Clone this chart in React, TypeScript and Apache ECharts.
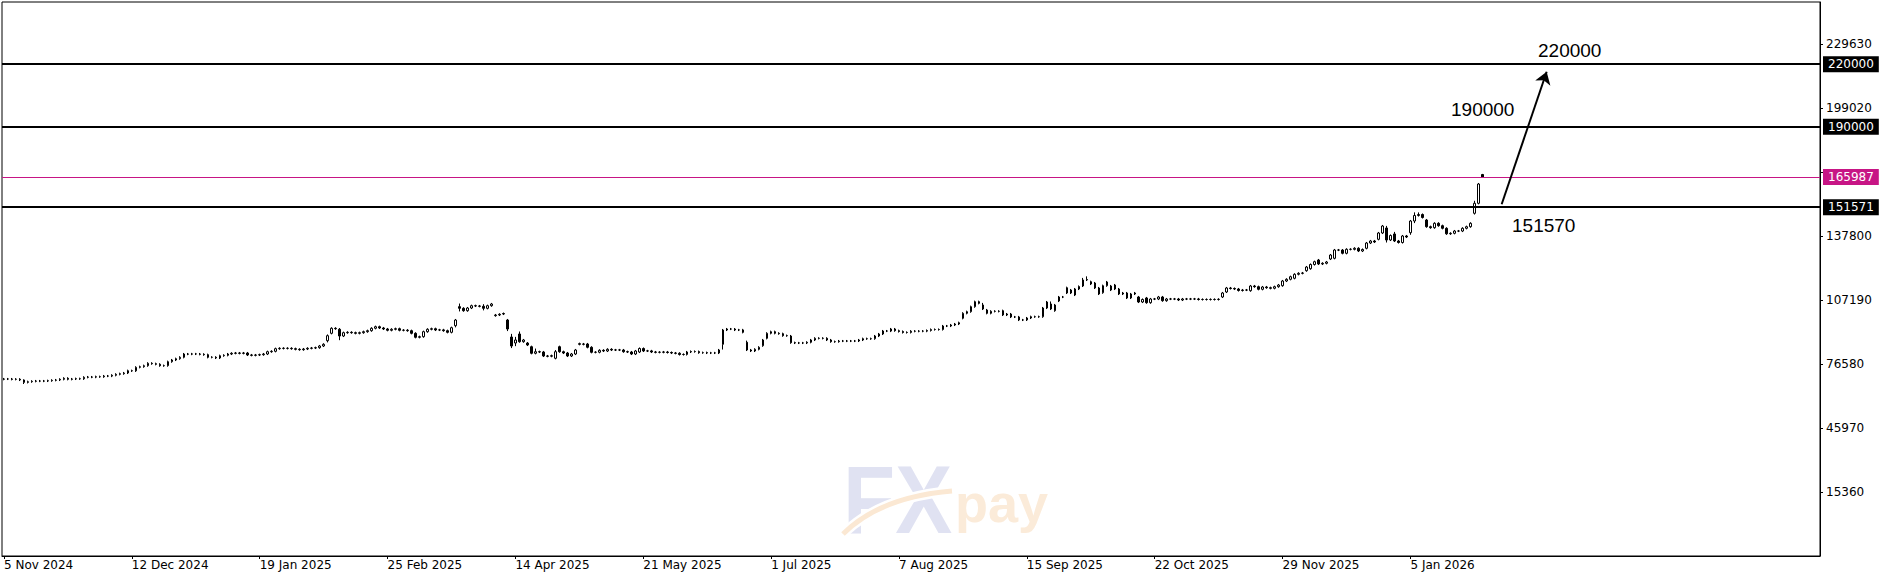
import React, { useEffect, useRef } from "react";
import * as echarts from "echarts";

// ---------- data ----------
const tickLabels = [
  "5 Nov 2024", "12 Dec 2024", "19 Jan 2025", "25 Feb 2025", "14 Apr 2025", "21 May 2025",
  "1 Jul 2025", "7 Aug 2025", "15 Sep 2025", "22 Oct 2025", "29 Nov 2025", "5 Jan 2026",
];
const BARS_PER_LABEL = 32;
const SLOT_COUNT = 455;

const opens = [
  69300, 69410, 69400, 69260, 69300, 68930, 67800, 68110, 68310, 68450,
  68400, 68450, 68590, 68780, 68930, 69260, 69740, 69260, 69410, 69550,
  69500, 70220, 70360, 70300, 70510, 70480, 70840, 70800, 71180, 71650,
  71940, 72280, 73380, 73300, 75000, 75290, 75770, 76920, 76720, 76440,
  75770, 75800, 77680, 78490, 79120, 79790, 81360, 81300, 81400, 81360,
  81220, 81030, 79790, 79800, 79450, 80550, 80740, 81360, 81700, 81840,
  81700, 81840, 80890, 80740, 80890, 81030, 81360, 82460, 82650, 83900,
  84090, 84050, 84090, 83900, 83610, 83420, 83750, 84090, 84230, 84380,
  85190, 87720, 91260, 93660, 93180, 89970, 91550, 91740, 91550, 91260,
  91550, 92030, 92510, 93660, 94420, 93800, 93320, 92700, 93180, 93460,
  92700, 92750, 92510, 91260, 89350, 89640, 92030, 93180, 93460, 92840,
  92900, 92510, 91740, 94900, 104000, 103220, 102070, 103360, 104460, 104320,
  104180, 103220, 104460, 99700, 100020, 100700, 97620, 89490, 86620, 90930,
  87250, 86600, 84850, 81700, 82460, 82320, 80410, 80300, 79310, 84850,
  82460, 81840, 80410, 81360, 86300, 86000, 86150, 84570, 82180, 82200,
  83130, 82800, 83610, 83280, 83300, 83280, 82460, 82320, 81360, 82320,
  83990, 82800, 82850, 82320, 82180, 82200, 82320, 82080, 81840, 81700,
  81120, 81150, 82320, 82560, 82500, 81980, 82000, 81840, 81880, 81840,
  86000, 92840, 93320, 93300, 92840, 92880, 86960, 83280, 82800, 83610,
  85330, 88870, 91260, 92030, 91260, 91070, 90120, 89970, 86770, 86620,
  86650, 86620, 86960, 88060, 88870, 88850, 88870, 88060, 87250, 87280,
  87580, 87550, 87580, 87560, 87580, 88060, 88680, 88650, 88680, 89970,
  90930, 92360, 92340, 93320, 92510, 92120, 91650, 91680, 92270, 92250,
  92270, 92290, 92600, 93080, 93050, 93080, 94760, 94740, 95230, 95710,
  98440, 100830, 101600, 103990, 106380, 104800, 102410, 100830, 101790, 101760,
  102070, 100020, 100490, 99060, 99080, 97620, 97650, 98580, 99200, 99180,
  99200, 103360, 105280, 102070, 106710, 108630, 110540, 111970, 109580, 112450,
  113890, 116760, 115940, 115320, 112930, 110680, 114030, 113890, 114360, 112450,
  110060, 110540, 108150, 110060, 108630, 106230, 108150, 105900, 107670, 107650,
  108630, 106860, 107670, 107650, 107670, 107190, 107670, 107650, 107670, 107690,
  107430, 107450, 107430, 107460, 107430, 108630, 111020, 112930, 112690, 112450,
  111730, 111970, 111640, 113890, 113550, 112310, 113410, 113070, 112790, 113550,
  114030, 116280, 117090, 117570, 119480, 119960, 121200, 122160, 124170, 126320,
  124410, 124740, 126800, 127130, 131100, 131080, 129530, 131440, 131420, 131920,
  130630, 131920, 134450, 135410, 136220, 139240, 141630, 135890, 138760, 135410,
  134690, 137800, 139380, 144970, 147600, 148080, 145450, 142250, 141770, 143870,
  142730, 141480, 138850, 139090, 140190, 140170, 141480, 142250, 148660, 153440,
  167200,
];

const closes = [
  69410, 69400, 69260, 69300, 68930, 67800, 68110, 68310, 68450, 68400,
  68450, 68590, 68780, 68930, 69260, 69740, 69260, 69410, 69550, 69500,
  70220, 70360, 70300, 70510, 70480, 70840, 70800, 71180, 71650, 71940,
  72280, 73380, 73300, 75000, 75290, 75770, 76920, 76720, 76440, 75770,
  75800, 77680, 78490, 79120, 79790, 81360, 81300, 81400, 81360, 81220,
  81030, 79790, 79800, 79450, 80550, 80740, 81360, 81700, 81840, 81700,
  81840, 80890, 80740, 80890, 81030, 81360, 82460, 82650, 83900, 84090,
  84050, 84090, 83900, 83610, 83420, 83750, 84090, 84230, 84380, 85190,
  86000, 90120, 93660, 93460, 89970, 91550, 91740, 91550, 91260, 91550,
  92030, 92510, 93660, 94420, 93800, 93320, 92700, 93180, 93460, 92700,
  92750, 92510, 91260, 89350, 89640, 92030, 93180, 93460, 92840, 92900,
  92510, 91740, 93940, 97620, 103220, 102070, 103360, 104460, 104320, 104180,
  103220, 104460, 105280, 100020, 100350, 100490, 93320, 85190, 88060, 87250,
  88060, 85670, 81700, 82460, 82320, 80410, 80300, 80550, 82460, 82460,
  81840, 80410, 81360, 83280, 86000, 86150, 84570, 82180, 82200, 83130,
  82800, 83610, 83280, 83300, 83280, 82460, 82320, 81360, 82800, 83990,
  82800, 82850, 82320, 82180, 82200, 82320, 82080, 81840, 81700, 81120,
  81150, 82320, 82560, 82500, 81980, 82000, 81840, 81880, 81840, 83280,
  92840, 93320, 93300, 92840, 92880, 91740, 83280, 82800, 83610, 84570,
  88060, 91260, 92030, 91260, 91070, 90120, 90150, 86770, 86620, 86650,
  86620, 86960, 88060, 88870, 88850, 88870, 88060, 87250, 87280, 87580,
  87550, 87580, 87560, 87580, 88060, 88680, 88650, 88680, 89970, 90930,
  92360, 92340, 93320, 92510, 92120, 91650, 91680, 92270, 92250, 92270,
  92290, 92600, 93080, 93050, 93080, 94760, 94740, 95230, 95710, 96330,
  100830, 101600, 103990, 106380, 105610, 102890, 100830, 101790, 101760, 101790,
  100020, 100490, 99060, 99080, 97620, 97650, 98580, 99200, 99180, 99200,
  103360, 106230, 102890, 104800, 108630, 108600, 113070, 110540, 112450, 113650,
  116760, 117000, 114840, 112930, 110060, 114030, 115800, 111970, 112450, 110060,
  110540, 108150, 110060, 110540, 106230, 107430, 105900, 107670, 107650, 108630,
  106860, 107670, 107650, 107670, 107190, 107670, 107650, 107670, 107690, 107430,
  107450, 107430, 107460, 107430, 107530, 110540, 112930, 112690, 112450, 111730,
  111970, 111950, 113890, 113550, 112310, 113410, 113070, 112790, 113550, 114360,
  116280, 117090, 118330, 119480, 119960, 120100, 122970, 124170, 125510, 124410,
  124740, 125370, 128710, 131100, 131080, 129530, 131440, 131420, 131920, 130630,
  131340, 134450, 135410, 134930, 139240, 142580, 135890, 138040, 135410, 134690,
  137800, 137320, 144970, 147600, 148080, 146650, 142250, 141770, 143870, 142730,
  141480, 138850, 139090, 140190, 140170, 141480, 142250, 143870, 153440, 162670,
  165987,
];

// wick lengths above / below the body
const wickUp = [
  500, 500, 500, 500, 500, 300, 500, 500, 500, 500,
  500, 500, 500, 500, 500, 500, 500, 500, 500, 500,
  500, 500, 500, 500, 500, 500, 500, 500, 500, 500,
  500, 500, 500, 500, 500, 500, 500, 500, 500, 500,
  500, 500, 500, 500, 500, 500, 500, 500, 500, 500,
  500, 500, 500, 500, 500, 500, 500, 500, 500, 500,
  500, 500, 500, 500, 500, 500, 500, 500, 500, 500,
  500, 500, 500, 500, 500, 500, 500, 500, 500, 500,
  500, 600, 500, 500, 600, 500, 500, 500, 500, 500,
  500, 500, 500, 500, 500, 500, 500, 500, 500, 500,
  500, 500, 500, 500, 500, 500, 500, 500, 500, 500,
  500, 500, 500, 500, 1500, 500, 500, 500, 500, 500,
  1000, 500, 500, 500, 500, 500, 500, 1500, 1500, 1200,
  500, 500, 500, 1500, 500, 500, 500, 500, 800, 500,
  500, 500, 500, 500, 500, 500, 500, 500, 500, 500,
  500, 500, 500, 500, 500, 500, 500, 500, 500, 500,
  500, 500, 500, 500, 500, 500, 500, 500, 500, 500,
  500, 500, 500, 500, 500, 500, 500, 500, 500, 500,
  500, 500, 500, 500, 500, 500, 800, 500, 500, 500,
  500, 500, 500, 500, 500, 500, 500, 500, 500, 500,
  500, 500, 500, 500, 500, 500, 500, 500, 500, 500,
  500, 500, 500, 500, 500, 500, 500, 500, 500, 500,
  500, 500, 500, 500, 500, 500, 500, 500, 500, 500,
  500, 500, 500, 500, 500, 500, 500, 500, 500, 500,
  500, 500, 500, 500, 500, 1000, 500, 500, 500, 500,
  500, 500, 500, 500, 500, 500, 500, 500, 500, 500,
  500, 500, 1200, 500, 500, 500, 500, 500, 500, 500,
  1000, 1500, 500, 500, 500, 500, 500, 500, 500, 500,
  500, 500, 500, 500, 500, 500, 500, 500, 500, 500,
  500, 500, 500, 500, 500, 500, 500, 500, 500, 500,
  500, 500, 500, 500, 500, 500, 500, 500, 500, 500,
  500, 500, 500, 500, 500, 500, 500, 500, 500, 500,
  500, 500, 500, 500, 500, 500, 500, 500, 500, 500,
  500, 500, 500, 500, 500, 500, 500, 500, 500, 500,
  500, 500, 500, 500, 500, 500, 1000, 500, 1000, 500,
  500, 500, 500, 1500, 1000, 500, 500, 500, 500, 500,
  500, 500, 500, 500, 500, 500, 500, 500, 1200, 500,
  300,
];

const wickDown = [
  500, 500, 500, 500, 500, 800, 500, 500, 500, 500,
  500, 500, 500, 500, 500, 500, 500, 500, 500, 500,
  500, 500, 500, 500, 500, 500, 500, 500, 500, 500,
  500, 500, 500, 500, 500, 500, 500, 500, 500, 500,
  500, 500, 500, 500, 500, 500, 500, 500, 500, 500,
  500, 500, 500, 500, 500, 500, 500, 500, 500, 500,
  500, 500, 500, 500, 500, 500, 500, 500, 500, 500,
  500, 500, 500, 500, 500, 500, 500, 500, 500, 500,
  500, 800, 500, 500, 2000, 500, 500, 500, 500, 500,
  500, 500, 500, 500, 500, 500, 500, 500, 500, 500,
  500, 500, 500, 500, 500, 500, 500, 500, 500, 500,
  500, 500, 500, 800, 1500, 500, 500, 500, 500, 500,
  1000, 500, 500, 500, 500, 500, 1000, 1000, 1500, 500,
  500, 500, 500, 500, 500, 500, 500, 500, 500, 500,
  500, 500, 500, 500, 500, 500, 500, 500, 500, 500,
  500, 500, 500, 500, 500, 500, 500, 500, 500, 500,
  500, 500, 500, 500, 500, 500, 500, 500, 500, 500,
  500, 500, 500, 500, 500, 500, 500, 500, 500, 500,
  2500, 500, 500, 500, 500, 500, 500, 500, 500, 500,
  500, 500, 500, 500, 500, 500, 500, 500, 500, 500,
  500, 500, 500, 500, 500, 500, 500, 500, 500, 500,
  500, 500, 500, 500, 500, 500, 500, 500, 500, 500,
  500, 500, 500, 500, 500, 500, 500, 500, 500, 500,
  500, 500, 500, 500, 500, 500, 500, 500, 500, 500,
  500, 500, 500, 500, 500, 500, 500, 500, 500, 500,
  500, 500, 500, 500, 500, 500, 500, 500, 500, 500,
  500, 500, 500, 500, 500, 500, 500, 500, 500, 500,
  500, 500, 500, 500, 500, 500, 500, 500, 500, 500,
  500, 500, 500, 500, 500, 500, 500, 500, 500, 500,
  500, 500, 500, 500, 500, 500, 500, 500, 500, 500,
  500, 500, 500, 500, 500, 500, 500, 500, 500, 500,
  500, 500, 500, 500, 500, 500, 500, 500, 500, 500,
  500, 500, 500, 500, 500, 500, 500, 500, 500, 500,
  500, 500, 500, 500, 500, 500, 500, 500, 500, 500,
  500, 500, 500, 500, 500, 500, 1200, 500, 500, 500,
  500, 500, 1000, 1000, 500, 500, 500, 500, 500, 500,
  500, 500, 500, 500, 500, 500, 500, 500, 600, 500,
  300,
];

const levelLines = [220000, 190000, 151571];
const currentPrice = 165987;
const Y_MIN = -15250;
const Y_STEP = 30610;
const Y_MAX = 249717;
const arrowStart = [374.83, 152960];
const arrowEnd = [386.09, 216380];

export default function App() {
  const ref = useRef<HTMLDivElement>(null);

  useEffect(() => {
    if (!ref.current) return;
    const chart = echarts.init(ref.current, null, { renderer: "svg" });
    const categories = Array.from({ length: SLOT_COUNT }, (_, i) => String(i));
    const candles = closes.map((c, i) => {
      const o = opens[i];
      return [o, c, Math.min(o, c) - wickDown[i], Math.max(o, c) + wickUp[i]];
    });
    const isLabelSlot = (idx: number) =>
      idx % BARS_PER_LABEL === 0 && idx / BARS_PER_LABEL < tickLabels.length;
    const axisFont = "DejaVu Sans";
    const annFont = '19px "Liberation Sans", Arial, sans-serif';

    chart.setOption({
      animation: false,
      backgroundColor: "#ffffff",
      grid: {
        left: 2,
        top: 2,
        width: 1818,
        height: 554,
        show: true,
        borderColor: "#000",
        borderWidth: 1,
        backgroundColor: "transparent",
        containLabel: false,
      },
      xAxis: [
        {
          type: "category",
          data: categories,
          boundaryGap: true,
          axisLine: { show: true, onZero: false, lineStyle: { color: "#000", width: 1 } },
          axisTick: {
            show: true,
            alignWithLabel: true,
            length: 3,
            interval: (idx: number) => isLabelSlot(idx),
            lineStyle: { color: "#000" },
          },
          axisLabel: {
            show: true,
            interval: (idx: number) => isLabelSlot(idx),
            formatter: (_v: string, idx: number) =>
              isLabelSlot(idx) ? tickLabels[idx / BARS_PER_LABEL] : "",
            align: "left",
            margin: 3,
            color: "#000",
            fontFamily: axisFont,
            fontSize: 12,
          },
          splitLine: { show: false },
        },
        {
          type: "value",
          min: -0.5,
          max: SLOT_COUNT - 0.5,
          show: false,
        },
      ],
      yAxis: {
        type: "value",
        position: "right",
        min: Y_MIN,
        max: Y_MAX,
        interval: Y_STEP,
        axisLine: { show: true, onZero: false, lineStyle: { color: "#000" } },
        axisTick: { show: true, length: 3, lineStyle: { color: "#000" } },
        axisLabel: {
          showMinLabel: false,
          showMaxLabel: false,
          margin: 6,
          color: "#000",
          fontFamily: axisFont,
          fontSize: 12,
          // the tick label that sits under the current-price tag is covered in the reference
          formatter: (v: number) =>
            Math.abs(v - currentPrice) < Y_STEP / 6 ? "" : String(Math.round(v)),
        },
        splitLine: { show: false },
      },
      graphic: [
        {
          type: "group",
          silent: true,
          children: [
            {
              type: "text",
              x: 843,
              y: 499,
              scaleX: 0.88,
              style: {
                text: "FX",
                fill: "#E0E2F2",
                font: 'bold 97px "Liberation Sans", Arial, sans-serif',
                verticalAlign: "middle",
              },
            },
            {
              type: "bezierCurve",
              shape: { x1: 843, y1: 534, cpx1: 880, cpy1: 497, x2: 952, y2: 491 },
              style: { stroke: "#ffffff", lineWidth: 10, fill: "none" },
            },
            {
              type: "bezierCurve",
              shape: { x1: 843, y1: 534, cpx1: 880, cpy1: 497, x2: 952, y2: 491 },
              style: { stroke: "#FBE8D3", lineWidth: 5, fill: "none" },
            },
            {
              type: "text",
              x: 955,
              y: 503,
              style: {
                text: "pay",
                fill: "#FBEBD9",
                font: 'bold 54px "Liberation Sans", Arial, sans-serif',
                verticalAlign: "middle",
              },
            },
          ],
        },
        { type: "text", x: 1538, y: 50, style: { text: "220000", fill: "#000", font: annFont, verticalAlign: "middle" } },
        { type: "text", x: 1451, y: 109, style: { text: "190000", fill: "#000", font: annFont, verticalAlign: "middle" } },
        { type: "text", x: 1512, y: 225.5, style: { text: "151570", fill: "#000", font: annFont, verticalAlign: "middle" } },
      ],
      series: [
        {
          type: "candlestick",
          data: candles,
          barWidth: 2,
          large: false,
          itemStyle: {
            color: "#ffffff",
            color0: "#000000",
            borderColor: "#000000",
            borderColor0: "#000000",
            borderWidth: 1,
          },
          markLine: {
            silent: true,
            symbol: ["none", "none"],
            emphasis: { disabled: true },
            label: {
              show: true,
              position: "end",
              distance: 3,
              color: "#fff",
              fontFamily: axisFont,
              fontSize: 12,
              padding: [2, 5, 2, 5],
              formatter: (p: any) => String(Math.round(p.value)),
            },
            data: [
              ...levelLines.map((v) => ({
                yAxis: v,
                lineStyle: { color: "#000", width: 2, type: "solid" },
                label: { backgroundColor: "#000" },
              })),
              {
                yAxis: currentPrice,
                lineStyle: { color: "#C71585", width: 1, type: "solid" },
                label: { backgroundColor: "#C71585" },
              },
            ],
          },
        },
        {
          type: "line",
          xAxisIndex: 1,
          data: [arrowStart, arrowEnd],
          showSymbol: false,
          silent: true,
          lineStyle: { opacity: 0 },
          markLine: {
            silent: true,
            symbol: ["none", "arrow"],
            symbolSize: 12,
            emphasis: { disabled: true },
            label: { show: false },
            lineStyle: { color: "#000", width: 2, type: "solid" },
            data: [[{ coord: arrowStart }, { coord: arrowEnd }]],
          },
        },
      ],
    });
    return () => chart.dispose();
  }, []);

  return (
    <div
      ref={ref}
      style={{ position: "fixed", left: 0, top: 0, width: 1898, height: 583, background: "#fff" }}
    />
  );
}
